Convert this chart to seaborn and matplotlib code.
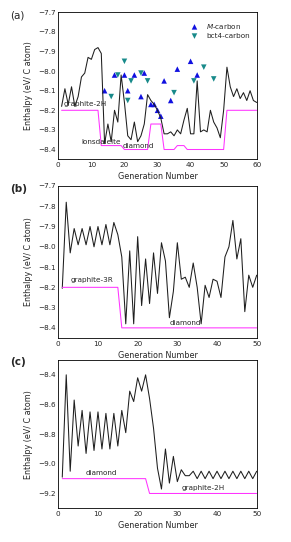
import numpy as np
import pandas as pd
import matplotlib
matplotlib.use("Agg")
import matplotlib.pyplot as plt
import seaborn as sns
from matplotlib.ticker import MultipleLocator

# ---------------- data ----------------
# panel (a)
gen_a = list(range(1, 61))
enth_a = [-8.18, -8.09, -8.17, -8.08, -8.18, -8.13, -8.03, -8.01, -7.93, -7.94,
          -7.89, -7.88, -7.91, -8.37, -8.27, -8.36, -8.20, -8.26, -8.02, -8.16,
          -8.33, -8.35, -8.26, -8.36, -8.33, -8.27, -8.12, -8.15, -8.17, -8.20,
          -8.24, -8.32, -8.32, -8.31, -8.33, -8.30, -8.32, -8.25, -8.19, -8.32,
          -8.32, -8.05, -8.31, -8.30, -8.31, -8.20, -8.26, -8.29, -8.34, -8.20,
          -7.98, -8.08, -8.13, -8.09, -8.14, -8.11, -8.15, -8.10, -8.15, -8.16]
ref_gen_a = [1, 12, 13, 19, 20, 27, 28, 31, 32, 35, 36, 38, 39, 50, 51, 60]
ref_a = [-8.20, -8.20, -8.38, -8.38, -8.40, -8.40, -8.27, -8.27, -8.40, -8.40,
         -8.38, -8.38, -8.40, -8.40, -8.20, -8.20]
mcarbon_gen = [14, 17, 20, 21, 23, 25, 26, 28, 29, 30, 31, 32, 34, 36, 40, 42]
mcarbon_h = [-8.10, -8.02, -8.02, -8.10, -8.02, -8.13, -8.01, -8.17, -8.17, -8.20,
             -8.23, -8.05, -8.15, -7.99, -7.95, -8.02]
bct4_gen = [16, 18, 20, 21, 22, 25, 27, 35, 41, 44, 47]
bct4_h = [-8.13, -8.02, -7.95, -8.15, -8.05, -8.01, -8.05, -8.11, -8.05, -7.98, -8.04]

# panel (b)
gen_b = list(range(1, 51))
enth_b = [-8.205, -7.78, -8.03, -7.91, -7.99, -7.91, -7.99, -7.90, -8.00, -7.90,
          -7.99, -7.89, -7.99, -7.88, -7.94, -8.05, -8.38, -8.02, -8.38, -7.95,
          -8.29, -8.06, -8.28, -8.03, -8.23, -7.98, -8.07, -8.35, -8.22, -7.98,
          -8.16, -8.15, -8.20, -8.08, -8.20, -8.38, -8.19, -8.25, -8.16, -8.17,
          -8.25, -8.05, -8.00, -7.87, -8.06, -7.96, -8.32, -8.14, -8.20, -8.14]
ref_gen_b = [1, 15, 16, 50]
ref_b = [-8.20, -8.20, -8.40, -8.40]

# panel (c)
gen_c = list(range(1, 51))
enth_c = [-9.09, -8.40, -9.05, -8.57, -8.88, -8.64, -8.93, -8.65, -8.91, -8.65,
          -8.90, -8.66, -8.90, -8.66, -8.88, -8.64, -8.79, -8.51, -8.58, -8.42,
          -8.51, -8.40, -8.56, -8.76, -9.03, -9.17, -8.90, -9.13, -8.95, -9.12,
          -9.04, -9.08, -9.08, -9.05, -9.10, -9.05, -9.10, -9.05, -9.10, -9.05,
          -9.10, -9.05, -9.10, -9.05, -9.10, -9.05, -9.10, -9.05, -9.10, -9.05]
ref_gen_c = [1, 22, 23, 50]
ref_c = [-9.10, -9.10, -9.20, -9.20]

# ---------------- style ----------------
sns.set_theme(style="white")
plt.rcParams['font.family'] = ['DejaVu Sans']
plt.rcParams['mathtext.default'] = 'regular'

W, H = 291, 542
fig = plt.figure(figsize=(W / 100, H / 100), dpi=100)

def axbox(l, t, r, b):
    return fig.add_axes([l / W, 1 - b / H, (r - l) / W, (b - t) / H])

ax_a = axbox(58.3, 12.3, 256.7, 159.3)
ax_b = axbox(58.3, 186.0, 256.7, 338.0)
ax_c = axbox(58.3, 360.0, 256.7, 508.3)

MAG = '#ff33ff'
LINE = '#1e1e1e'
LW = 0.75
FS = 5.2

def style(ax, xmax, ylim, ymaj, ymin):
    ax.set_xlim(0, xmax)
    ax.set_ylim(*ylim)
    ax.xaxis.set_major_locator(MultipleLocator(10))
    ax.xaxis.set_minor_locator(MultipleLocator(5))
    ax.yaxis.set_major_locator(MultipleLocator(ymaj))
    ax.yaxis.set_minor_locator(MultipleLocator(ymin))
    ax.tick_params(which='both', direction='in', labelsize=FS, pad=2, color='black')
    ax.tick_params(which='major', length=2.5, width=0.5)
    ax.tick_params(which='minor', length=1.5, width=0.5)
    for s in ax.spines.values():
        s.set_color('black')
        s.set_linewidth(0.6)
    ax.set_xlabel('Generation Number', fontsize=5.8, labelpad=3)
    ax.set_ylabel('Enthalpy (eV/ C atom)', fontsize=5.8, labelpad=3)

# panel (a)
df_a = pd.DataFrame({'gen': gen_a, 'H': enth_a})
df_ra = pd.DataFrame({'gen': ref_gen_a, 'H': ref_a})
sns.lineplot(data=df_a, x='gen', y='H', ax=ax_a, color=LINE, lw=LW)
sns.lineplot(data=df_ra, x='gen', y='H', ax=ax_a, color=MAG, lw=LW)
sns.scatterplot(x=mcarbon_gen, y=mcarbon_h, ax=ax_a, marker='^', color='#1010e0',
                s=16, edgecolor='none', label='$\\it{M}$-carbon')
sns.scatterplot(x=bct4_gen, y=bct4_h, ax=ax_a, marker='v', color='#188a8a',
                s=16, edgecolor='none', label='bct4-carbon')
style(ax_a, 60, (-8.45, -7.7), 0.1, 0.05)
ax_a.legend(loc='upper right', fontsize=5.2, frameon=False, handletextpad=0.6,
            borderaxespad=0.3, labelspacing=0.3, bbox_to_anchor=(0.99, 0.97))
ax_a.text(1.5, -8.185, 'graphite-2H', fontsize=5.2, ha='left', va='bottom')
ax_a.text(7.0, -8.375, 'lonsdaleite', fontsize=5.2, ha='left', va='bottom')
ax_a.text(19.5, -8.395, 'diamond', fontsize=5.2, ha='left', va='bottom')

# panel (b)
df_b = pd.DataFrame({'gen': gen_b, 'H': enth_b})
df_rb = pd.DataFrame({'gen': ref_gen_b, 'H': ref_b})
sns.lineplot(data=df_b, x='gen', y='H', ax=ax_b, color=LINE, lw=LW)
sns.lineplot(data=df_rb, x='gen', y='H', ax=ax_b, color=MAG, lw=LW)
style(ax_b, 50, (-8.45, -7.7), 0.1, 0.05)
ax_b.text(3.0, -8.18, 'graphite-3R', fontsize=5.2, ha='left', va='bottom')
ax_b.text(28.0, -8.39, 'diamond', fontsize=5.2, ha='left', va='bottom')

# panel (c)
df_c = pd.DataFrame({'gen': gen_c, 'H': enth_c})
df_rc = pd.DataFrame({'gen': ref_gen_c, 'H': ref_c})
sns.lineplot(data=df_c, x='gen', y='H', ax=ax_c, color=LINE, lw=LW)
sns.lineplot(data=df_rc, x='gen', y='H', ax=ax_c, color=MAG, lw=LW)
style(ax_c, 50, (-9.3, -8.3), 0.2, 0.1)
ax_c.text(7.0, -9.085, 'diamond', fontsize=5.2, ha='left', va='bottom')
ax_c.text(31.0, -9.185, 'graphite-2H', fontsize=5.2, ha='left', va='bottom')

for ax in (ax_a, ax_b, ax_c):
    ax.yaxis.set_label_coords(-0.13, 0.5)

fig.text(10 / W, 1 - 15 / H, '(a)', fontsize=7.5, va='center')
fig.text(10 / W, 1 - 189 / H, '(b)', fontsize=7.5, va='center', fontweight='bold')
fig.text(10 / W, 1 - 362 / H, '(c)', fontsize=7.5, va='center', fontweight='bold')

fig.savefig('out.png', dpi=100)
